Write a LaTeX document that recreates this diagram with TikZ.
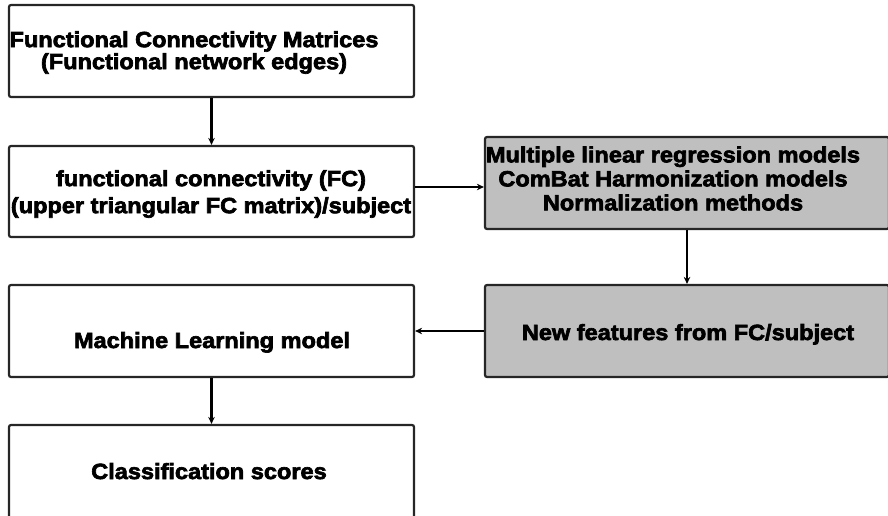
\documentclass[tikz,border=0pt]{standalone}
\usepackage{fontspec}
\newfontfamily\heavy{Liberation Sans Bold}[FakeStretch=1.07,FakeBold=3]
\usetikzlibrary{arrows.meta}
\begin{document}
\begin{tikzpicture}[x=1pt,y=-1pt,
  box/.style={draw=black!85,line width=2.2pt,rounded corners=2pt,fill=white,inner sep=0pt},
  greybox/.style={box,fill=black!25},
  lbl/.style={inner sep=0pt,align=center,font=\heavy\fontsize{22}{22}\selectfont},
  arr/.style={line width=2.2pt,draw=black,-{Stealth[length=7pt,width=6.5pt]}}]
\useasboundingbox (0,0) rectangle (888,515);
\clip (0,0) rectangle (888,515);
% boxes
\node[box,minimum width=405pt,minimum height=92pt] (b1) at (211.5,51) {};
\node[box,minimum width=405pt,minimum height=91pt] (b2) at (211.5,191.5) {};
\node[greybox,minimum width=404pt,minimum height=92pt] (b3) at (687,183) {};
\node[box,minimum width=405pt,minimum height=92pt] (b4) at (211.5,331) {};
\node[greybox,minimum width=404pt,minimum height=92pt] (b5) at (687,331) {};
\node[box,minimum width=405pt,minimum height=100pt] (b6) at (211.5,475) {};
% texts
\node[lbl,font=\heavy\fontsize{22}{22}\selectfont] (t1) at (194,52.5) {Functional Connectivity Matrices\\(Functional network edges)};
\node[lbl,font=\heavy\fontsize{22}{27}\selectfont] (t2) at (211,194) {functional connectivity (FC)\\(upper triangular FC matrix)/subject};
\node[lbl,font=\heavy\fontsize{22}{24}\selectfont] (t3) at (673,178.5) {Multiple linear regression models\\ComBat Harmonization models\\Normalization methods};
\node[lbl,anchor=base] (t4) at (212,348) {Machine Learning model};
\node[lbl,anchor=base] (t5) at (688,340) {New features from FC/subject};
\node[lbl,anchor=base] (t6) at (209,479) {Classification scores};
% connectors
\draw[arr] (b1.south) -- (b2.north);
\path ([yshift=4.5pt]b2.east) coordinate (p);
\draw[arr] (p) -- (p -| b3.west);
\draw[arr] (b3.south) -- (b5.north);
\draw[arr] (b5.west) -- (b4.east);
\draw[arr] (b4.south) -- (b6.north);
\end{tikzpicture}
\end{document}
